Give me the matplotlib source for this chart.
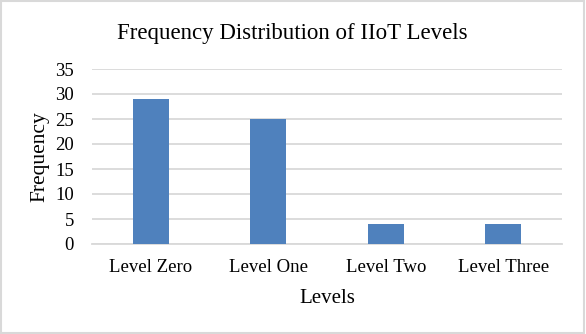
import matplotlib.pyplot as plt
from matplotlib.patches import Rectangle

levels = ['Level Zero', 'Level One', 'Level Two', 'Level Three']
counts = [29, 25, 4, 4]
yticks = [0, 5, 10, 15, 20, 25, 30, 35]

plt.rcParams['font.family'] = ['Liberation Serif', 'DejaVu Serif']

fig = plt.figure(figsize=(5.86, 3.34), dpi=100)
ax = fig.add_axes([92/586, 1 - 244/334, 470/586, 175/334])

x = range(len(levels))
ax.bar(x, counts, width=0.31, color='#4f81bd', zorder=3)

ax.set_xlim(-0.5, len(levels) - 0.5)
ax.set_ylim(0, 35)
ax.set_yticks(yticks)
ax.set_xticks(list(x))
ax.set_xticklabels(levels)
ax.tick_params(axis='both', length=0, labelsize=13.5, colors='black')
ax.tick_params(axis='x', pad=11)
ax.tick_params(axis='y', pad=13)
ax.yaxis.grid(True, color='#d9d9d9', linewidth=1.3)
ax.set_axisbelow(True)
for side in ['top', 'right', 'left']:
    ax.spines[side].set_visible(False)
ax.spines['bottom'].set_color('#d9d9d9')
ax.spines['bottom'].set_linewidth(1.3)

ax.set_xlabel('Levels', fontsize=15, labelpad=9)
ax.set_ylabel('Frequency', fontsize=15.5, labelpad=4)
fig.text(292/586, 1 - 34/334, 'Frequency Distribution of IIoT Levels',
         ha='center', va='center', fontsize=16.5)

# chart frame
fig.patches.append(Rectangle((0.002, 0.003), 0.995, 0.994, transform=fig.transFigure,
                             fill=False, edgecolor='#d9d9d9', linewidth=1.5))

fig.savefig('out.png', dpi=100)
